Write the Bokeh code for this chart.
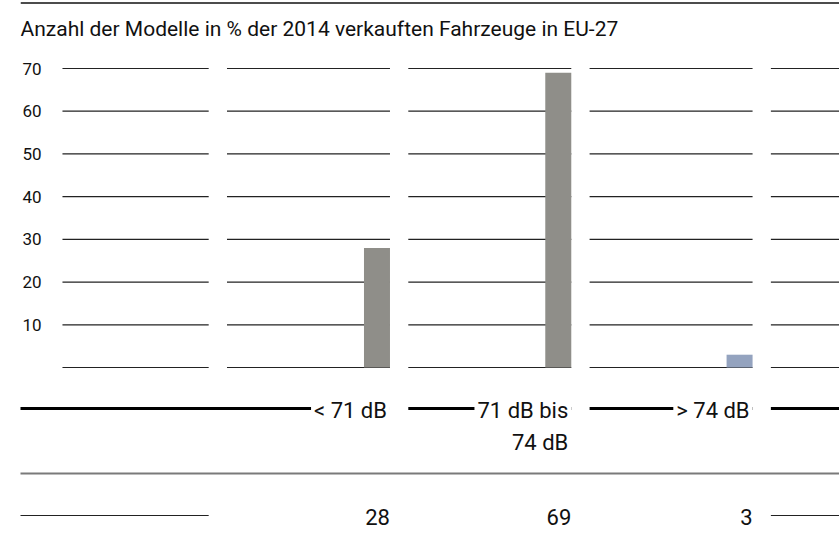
from bokeh.plotting import figure
from bokeh.models import Range1d, LinearAxis, FixedTicker, ColumnDataSource, Grid
from bokeh.core.properties import value
from bokeh.transform import dodge
from bokeh.embed import file_html
from bokeh.resources import INLINE

# ---------------- data ----------------
title_text = "Anzahl der Modelle in % der 2014 verkauften Fahrzeuge in EU-27"
categories = ["< 71 dB", "71 dB bis\n74 dB", "> 74 dB"]
shares = [28, 69, 3]
share_labels = ["28", "69", "3"]
bar_colors = ["#8f8e89", "#8f8e89", "#94a3bf"]
y_ticks = [10, 20, 30, 40, 50, 60, 70]
grid_levels = [0, 10, 20, 30, 40, 50, 60, 70]

# ---------------- layout / style ----------------
FONT = "Roboto"
TXT = "#111111"
W, H = 839, 548
HALF = 0.4495          # half width of a column (in column units)
BAR_W = 0.1434         # bar width (column units)
n_cols = len(categories) + 2
col_pos = list(range(1, len(categories) + 1))

p = figure(width=W, height=H, output_backend="svg", toolbar_location=None,
           x_range=Range1d(-0.5885, 3.929), y_range=Range1d(-42.37, 85.92),
           min_border_left=20, min_border_right=0, min_border_top=0, min_border_bottom=0,
           x_axis_location=None, y_axis_location=None)
p.outline_line_color = None
p.background_fill_color = "white"
p.border_fill_color = "white"
p.center = [r for r in p.center if not isinstance(r, Grid)]
p.extra_x_ranges = {"px": Range1d(20, 839)}
p.extra_y_ranges = {"px": Range1d(548, 0)}

yax = LinearAxis(ticker=FixedTicker(ticks=y_ticks))
yax.axis_line_color = None
yax.major_tick_line_color = None
yax.minor_tick_line_color = None
yax.major_label_standoff = -27
yax.major_label_text_font = FONT
yax.major_label_text_font_size = "17px"
yax.major_label_text_color = TXT
p.add_layout(yax, "left")

# broken grid lines, one segment per column
x0s, x1s, ys = [], [], []
for lv in grid_levels:
    for j in range(n_cols):
        start = j - HALF if j > 0 else -0.357
        x0s.append(start); x1s.append(j + HALF); ys.append(lv)
p.segment(x0=x0s, y0=ys, x1=x1s, y1=ys, line_color="#222222", line_width=1.2)

# bars, right-aligned inside their column
src = ColumnDataSource(dict(x=col_pos, top=shares, color=bar_colors,
                            cat=categories, lab=share_labels))
p.vbar(x=dodge("x", HALF - BAR_W / 2), top="top", bottom=0, width=BAR_W,
       fill_color="color", line_color=None, source=src)

# top rule and title
p.segment(x0=[20], y0=[2.5], x1=[839], y1=[2.5], line_color="#111111", line_width=1.5,
          x_range_name="px", y_range_name="px")
p.text(x=[20], y=[28], text=[title_text], text_font=value(FONT), text_font_size="21px",
       text_color=TXT, text_baseline="middle", text_align="left",
       x_range_name="px", y_range_name="px")

# category row: thick rules, broken by labels
cx0 = [-0.6, 2 - HALF, 3 - HALF, 4 - HALF]
cx1 = [1 + HALF, 2 + HALF, 3 + HALF, 4.6]
p.segment(x0=cx0, y0=[408] * 4, x1=cx1, y1=[408] * 4,
          line_color="#000000", line_width=2.8, y_range_name="px")
p.text(x=dodge("x", HALF), y=394, text="cat", source=src, text_font=value(FONT),
       text_font_size="22px", text_color=TXT, text_align="right", text_baseline="top",
       text_line_height=1.3, background_fill_color="white", padding=3,
       y_range_name="px")

# separator
p.segment(x0=[-0.6], y0=[473], x1=[4.6], y1=[473], line_color="#7a7a7a",
          line_width=2, y_range_name="px")

# value row
p.segment(x0=[-0.6, 4 - HALF], y0=[515, 515], x1=[HALF, 4.6], y1=[515, 515],
          line_color="#222222", line_width=1.2, y_range_name="px")
p.text(x=dodge("x", HALF), y=516, text="lab", source=src, text_font=value(FONT),
       text_font_size="22px", text_color=TXT, text_align="right", text_baseline="middle",
       y_range_name="px")

open("out.html", "w").write(file_html(p, INLINE))
